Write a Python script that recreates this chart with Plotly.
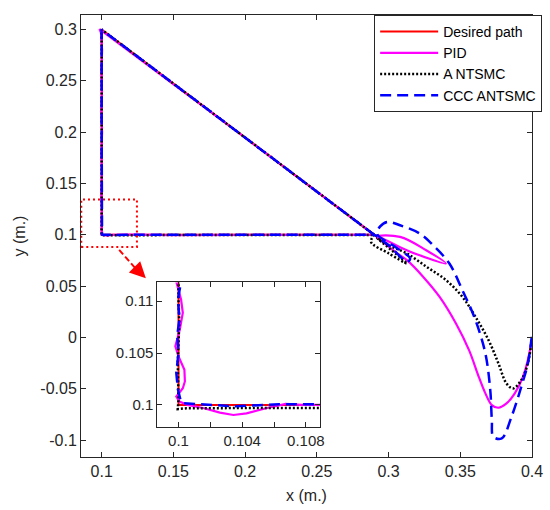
import plotly.graph_objects as go

# ---------------- data ----------------
desired_x = [0.1, 0.1, 0.29, 0.1]
desired_y = [0.3, 0.1, 0.1, 0.3]

# PID: initial approach (from the start point to the triangle corner)
pid_app_x = [0.3998, 0.3971, 0.3937, 0.388, 0.3822, 0.3766, 0.372, 0.3675, 0.3629, 0.3561,
             0.347, 0.3356, 0.3242, 0.3128, 0.305, 0.298, 0.292,
             0.308, 0.3262, 0.340, 0.3217, 0.308, 0.295, 0.29]
pid_app_y = [-0.0026, -0.0221, -0.0384, -0.0545, -0.0643, -0.0685, -0.0659, -0.0545, -0.0384, -0.0124,
             0.0136, 0.0395, 0.059, 0.0753, 0.083, 0.091, 0.098,
             0.098, 0.085, 0.072, 0.080, 0.088, 0.097, 0.100]
# PID: tracking of the triangle
pid_x = [0.29, 0.2, 0.0985, 0.0995,
         0.1003, 0.0998, 0.1002, 0.0997, 0.1003, 0.0998, 0.1002, 0.0997, 0.1002, 0.0998,
         0.09986, 0.10016, 0.10027, 0.10008, 0.0998, 0.1000, 0.10037, 0.1004, 0.10027,
         0.09986, 0.10006, 0.10057, 0.1016, 0.1026, 0.10345, 0.10427, 0.1055, 0.10673,
         0.10775, 0.1089, 0.12, 0.15, 0.2, 0.25, 0.29]
pid_y = [0.100, 0.1947, 0.3005, 0.297,
         0.28, 0.26, 0.24, 0.22, 0.20, 0.18, 0.16, 0.14, 0.125, 0.115,
         0.11187, 0.11016, 0.10887, 0.10726, 0.10565, 0.10468, 0.10339, 0.10226, 0.10161,
         0.10081, 0.10032, 0.1000, 0.09968, 0.09926, 0.09903, 0.09919, 0.09968, 0.1001,
         0.1000, 0.1000, 0.1002, 0.0998, 0.1002, 0.0999, 0.1000]

antsmc_app_x = [0.3998, 0.3971, 0.3925, 0.3868, 0.3822, 0.3766, 0.3697, 0.3606, 0.3515, 0.3401,
                0.3265, 0.3128, 0.300, 0.292, 0.3128, 0.300, 0.2878, 0.29]
antsmc_app_y = [-0.0026, -0.0253, -0.0416, -0.0497, -0.0448, -0.0253, -0.0026, 0.0201, 0.0395, 0.0558,
                0.0688, 0.0818, 0.090, 0.097, 0.072, 0.082, 0.093, 0.100]
antsmc_x = [0.29, 0.2, 0.1, 0.1, 0.10005, 0.09995, 0.1000, 0.09995,
            0.1005, 0.105, 0.1077, 0.1089, 0.115, 0.15, 0.2, 0.25, 0.289]
antsmc_y = [0.100, 0.1947, 0.3, 0.11, 0.108, 0.104, 0.1005, 0.0996,
            0.09968, 0.0997, 0.09955, 0.09942, 0.0995, 0.0997, 0.0997, 0.0998, 0.0998]

ccc_app_x = [0.3998, 0.3971, 0.3925, 0.3857, 0.3789, 0.3731, 0.372, 0.3709, 0.3675, 0.3606,
             0.3515, 0.3424, 0.331, 0.3217, 0.308, 0.2991, 0.294, 0.292,
             0.305, 0.315, 0.313, 0.300, 0.29]
ccc_app_y = [0.0006, -0.0253, -0.0481, -0.0773, -0.0984, -0.0968, -0.0805, -0.0513, -0.0156, 0.0168,
             0.046, 0.072, 0.0899, 0.1013, 0.1093, 0.1126, 0.108, 0.101,
             0.088, 0.077, 0.074, 0.090, 0.100]
ccc_x = [0.29, 0.2, 0.1, 0.1, 0.1001,
         0.10016, 0.09996, 0.10006, 0.09992, 0.1000, 0.09986, 0.09996, 0.10012, 0.10027,
         0.1014, 0.1036, 0.1063, 0.1089, 0.15, 0.29]
ccc_y = [0.100, 0.1947, 0.3, 0.2, 0.13,
         0.11187, 0.11016, 0.1083, 0.1067, 0.1050, 0.1031, 0.1015, 0.1005, 0.10016,
         0.10006, 0.09987, 0.10006, 0.09994, 0.1000, 0.1000]

x_ticks = [0.1, 0.15, 0.2, 0.25, 0.3, 0.35, 0.4]
x_tick_text = ["0.1", "0.15", "0.2", "0.25", "0.3", "0.35", "0.4"]
y_ticks = [-0.1, -0.05, 0, 0.05, 0.1, 0.15, 0.2, 0.25, 0.3]
y_tick_text = ["-0.1", "-0.05", "0", "0.05", "0.1", "0.15", "0.2", "0.25", "0.3"]
inset_x_ticks = [0.1, 0.102, 0.104, 0.106, 0.108]
inset_x_text = ["0.1", "", "0.104", "", "0.108"]
inset_y_ticks = [0.1, 0.105, 0.11]
inset_y_text = ["0.1", "0.105", "0.11"]

names = ["Desired path", "PID", "A NTSMC", "CCC ANTSMC"]
colors = ["#FF0000", "#FF00FF", "#000000", "#0000FF"]
dashes = ["solid", "solid", "2px,2px", "11px,6px"]
widths = [2, 2.2, 2.5, 2.5]
approach = [None, (pid_app_x, pid_app_y), (antsmc_app_x, antsmc_app_y), (ccc_app_x, ccc_app_y)]
tracking = [(desired_x, desired_y), (pid_x, pid_y), (antsmc_x, antsmc_y), (ccc_x, ccc_y)]

fig = go.Figure()
for xa, ya, show in (("x", "y", True), ("x2", "y2", False)):
    for i, n in enumerate(names):
        ln = dict(color=colors[i], dash=dashes[i], width=widths[i])
        if approach[i] is not None:
            ax_, ay_ = approach[i]
            fig.add_trace(go.Scatter(x=ax_, y=ay_, mode="lines", name=n, legendgroup=n,
                                     showlegend=False,
                                     line=dict(ln, shape="spline", smoothing=1.0),
                                     xaxis=xa, yaxis=ya))
        tx, ty = tracking[i]
        fig.add_trace(go.Scatter(x=tx, y=ty, mode="lines", name=n, legendgroup=n,
                                 showlegend=show, line=ln, xaxis=xa, yaxis=ya))

axis_col = "#262626"
FONT = "Liberation Sans, Arial, sans-serif"
common = dict(showline=True, linecolor=axis_col, linewidth=1, mirror="ticks",
              ticks="inside", ticklen=5, tickcolor=axis_col, showgrid=False,
              zeroline=False)

fig.update_layout(
    width=550, height=510,
    margin=dict(l=81, r=8, t=15, b=53),
    paper_bgcolor="white", plot_bgcolor="white",
    font=dict(family=FONT, color=axis_col),
    showlegend=True,
    legend=dict(x=0.650, y=1.0, xanchor="left", yanchor="top",
                bordercolor="#262626", borderwidth=1, bgcolor="white",
                font=dict(size=14, color="black"), itemwidth=58,
                tracegroupgap=0),
    xaxis=dict(range=[0.0856, 0.4], tickvals=x_ticks, ticktext=x_tick_text,
               tickfont=dict(size=16), domain=[0, 1],
               title=dict(text="x (m.)", font=dict(size=16), standoff=10), **common),
    yaxis=dict(range=[-0.1165, 0.3142], tickvals=y_ticks, ticktext=y_tick_text,
               tickfont=dict(size=16), domain=[0, 1],
               title=dict(text="y (m.)", font=dict(size=16), standoff=10), **common),
    xaxis2=dict(range=[0.09867, 0.1089], tickvals=inset_x_ticks, ticktext=inset_x_text,
                tickfont=dict(size=15), domain=[0.1693, 0.5303], anchor="y2", **common),
    yaxis2=dict(range=[0.0979, 0.1118], tickvals=inset_y_ticks, ticktext=inset_y_text,
                tickfont=dict(size=15), domain=[0.0685, 0.395], anchor="x2", **common),
)

# zoom rectangle and arrow
fig.add_shape(type="rect", xref="x", yref="y", x0=0.0858, x1=0.1246, y0=0.0882, y1=0.1344,
              line=dict(color="#FF0000", width=2, dash="2px,3px"))
fig.add_shape(type="line", xref="x", yref="y", x0=0.1122, y0=0.0854, x1=0.1275, y1=0.0612,
              line=dict(color="#FF0000", width=2, dash="6px,3px"))
fig.add_annotation(x=0.1308, y=0.0577, xref="x", yref="y", ax=-9, ay=-9,
                   showarrow=True, arrowhead=2, arrowsize=1.6, arrowwidth=2,
                   arrowcolor="#FF0000", text="")

fig.write_html("out.html")
